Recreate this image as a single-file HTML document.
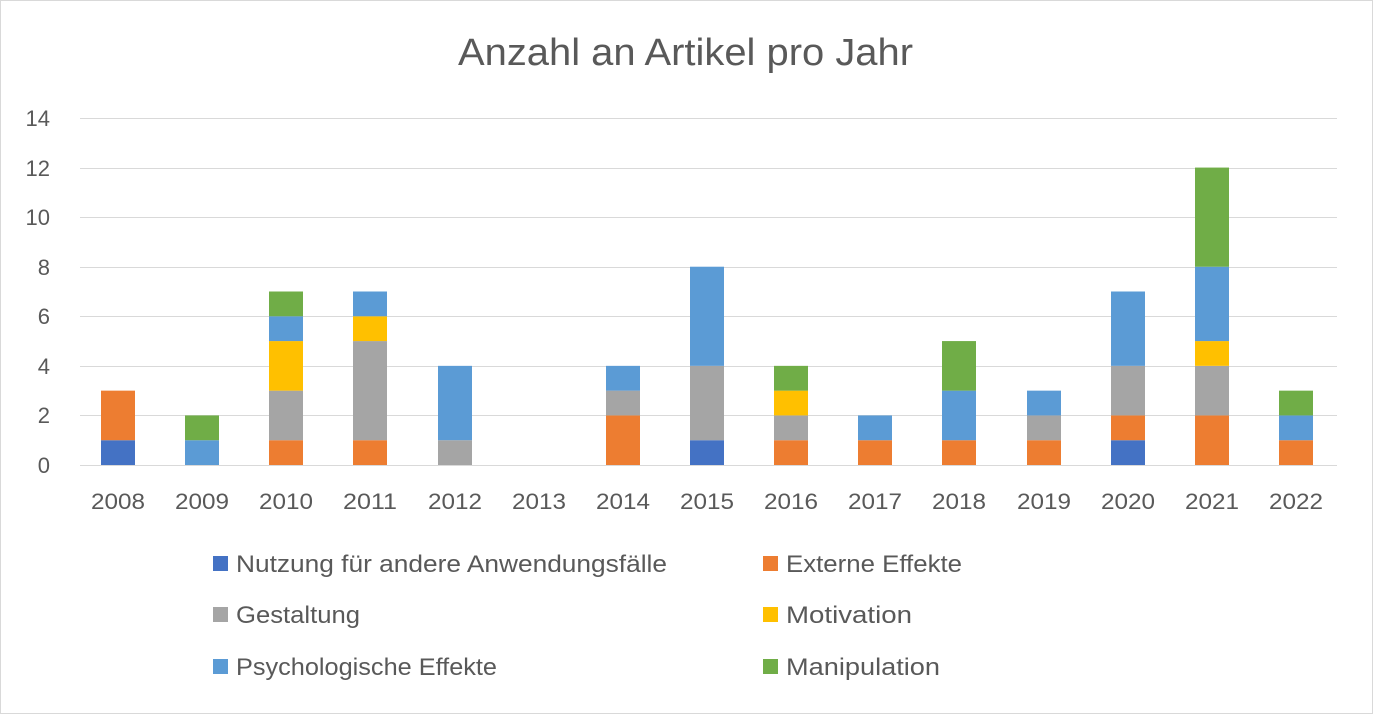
<!DOCTYPE html>
<html><head><meta charset="utf-8"><style>
html,body{margin:0;padding:0;background:#fff}
svg{display:block;font-family:"Liberation Sans",sans-serif}
</style></head><body>
<svg width="1373" height="714" viewBox="0 0 1373 714">
<rect x="0.5" y="0.5" width="1372" height="713" fill="#fff" stroke="#d9d9d9"/>
<text x="458" y="65" font-size="38" fill="#595959" textLength="455" lengthAdjust="spacingAndGlyphs">Anzahl an Artikel pro Jahr</text>
<g stroke="#d9d9d9" stroke-width="1">
<line x1="80" x2="1337" y1="118.5" y2="118.5"/>
<line x1="80" x2="1337" y1="168.5" y2="168.5"/>
<line x1="80" x2="1337" y1="217.5" y2="217.5"/>
<line x1="80" x2="1337" y1="267.5" y2="267.5"/>
<line x1="80" x2="1337" y1="316.5" y2="316.5"/>
<line x1="80" x2="1337" y1="366.5" y2="366.5"/>
<line x1="80" x2="1337" y1="415.5" y2="415.5"/>
<line x1="80" x2="1337" y1="465.5" y2="465.5"/>
</g>
<g font-size="22" fill="#595959" text-anchor="end">
<text x="50" y="126">14</text><text x="50" y="176">12</text><text x="50" y="225">10</text>
<text x="50" y="275">8</text><text x="50" y="324">6</text><text x="50" y="374">4</text>
<text x="50" y="423">2</text><text x="50" y="473">0</text>
</g>
<g transform="translate(0,465) scale(1,-24.786)">
<rect x="101" y="0" width="34" height="1" fill="#4472C4"/>
<rect x="101" y="1" width="34" height="2" fill="#ED7D31"/>
<rect x="185" y="0" width="34" height="1" fill="#5B9BD5"/>
<rect x="185" y="1" width="34" height="1" fill="#70AD47"/>
<rect x="269" y="0" width="34" height="1" fill="#ED7D31"/>
<rect x="269" y="1" width="34" height="2" fill="#A5A5A5"/>
<rect x="269" y="3" width="34" height="2" fill="#FFC000"/>
<rect x="269" y="5" width="34" height="1" fill="#5B9BD5"/>
<rect x="269" y="6" width="34" height="1" fill="#70AD47"/>
<rect x="353" y="0" width="34" height="1" fill="#ED7D31"/>
<rect x="353" y="1" width="34" height="4" fill="#A5A5A5"/>
<rect x="353" y="5" width="34" height="1" fill="#FFC000"/>
<rect x="353" y="6" width="34" height="1" fill="#5B9BD5"/>
<rect x="438" y="0" width="34" height="1" fill="#A5A5A5"/>
<rect x="438" y="1" width="34" height="3" fill="#5B9BD5"/>
<rect x="606" y="0" width="34" height="2" fill="#ED7D31"/>
<rect x="606" y="2" width="34" height="1" fill="#A5A5A5"/>
<rect x="606" y="3" width="34" height="1" fill="#5B9BD5"/>
<rect x="690" y="0" width="34" height="1" fill="#4472C4"/>
<rect x="690" y="1" width="34" height="3" fill="#A5A5A5"/>
<rect x="690" y="4" width="34" height="4" fill="#5B9BD5"/>
<rect x="774" y="0" width="34" height="1" fill="#ED7D31"/>
<rect x="774" y="1" width="34" height="1" fill="#A5A5A5"/>
<rect x="774" y="2" width="34" height="1" fill="#FFC000"/>
<rect x="774" y="3" width="34" height="1" fill="#70AD47"/>
<rect x="858" y="0" width="34" height="1" fill="#ED7D31"/>
<rect x="858" y="1" width="34" height="1" fill="#5B9BD5"/>
<rect x="942" y="0" width="34" height="1" fill="#ED7D31"/>
<rect x="942" y="1" width="34" height="2" fill="#5B9BD5"/>
<rect x="942" y="3" width="34" height="2" fill="#70AD47"/>
<rect x="1027" y="0" width="34" height="1" fill="#ED7D31"/>
<rect x="1027" y="1" width="34" height="1" fill="#A5A5A5"/>
<rect x="1027" y="2" width="34" height="1" fill="#5B9BD5"/>
<rect x="1111" y="0" width="34" height="1" fill="#4472C4"/>
<rect x="1111" y="1" width="34" height="1" fill="#ED7D31"/>
<rect x="1111" y="2" width="34" height="2" fill="#A5A5A5"/>
<rect x="1111" y="4" width="34" height="3" fill="#5B9BD5"/>
<rect x="1195" y="0" width="34" height="2" fill="#ED7D31"/>
<rect x="1195" y="2" width="34" height="2" fill="#A5A5A5"/>
<rect x="1195" y="4" width="34" height="1" fill="#FFC000"/>
<rect x="1195" y="5" width="34" height="3" fill="#5B9BD5"/>
<rect x="1195" y="8" width="34" height="4" fill="#70AD47"/>
<rect x="1279" y="0" width="34" height="1" fill="#ED7D31"/>
<rect x="1279" y="1" width="34" height="1" fill="#5B9BD5"/>
<rect x="1279" y="2" width="34" height="1" fill="#70AD47"/>
</g>
<g font-size="22" fill="#595959" text-anchor="middle">
<text x="118" y="509" textLength="54" lengthAdjust="spacingAndGlyphs">2008</text><text x="202" y="509" textLength="54" lengthAdjust="spacingAndGlyphs">2009</text><text x="286" y="509" textLength="54" lengthAdjust="spacingAndGlyphs">2010</text>
<text x="370" y="509" textLength="54" lengthAdjust="spacingAndGlyphs">2011</text><text x="455" y="509" textLength="54" lengthAdjust="spacingAndGlyphs">2012</text><text x="539" y="509" textLength="54" lengthAdjust="spacingAndGlyphs">2013</text>
<text x="623" y="509" textLength="54" lengthAdjust="spacingAndGlyphs">2014</text><text x="707" y="509" textLength="54" lengthAdjust="spacingAndGlyphs">2015</text><text x="791" y="509" textLength="54" lengthAdjust="spacingAndGlyphs">2016</text>
<text x="875" y="509" textLength="54" lengthAdjust="spacingAndGlyphs">2017</text><text x="959" y="509" textLength="54" lengthAdjust="spacingAndGlyphs">2018</text><text x="1044" y="509" textLength="54" lengthAdjust="spacingAndGlyphs">2019</text>
<text x="1128" y="509" textLength="54" lengthAdjust="spacingAndGlyphs">2020</text><text x="1212" y="509" textLength="54" lengthAdjust="spacingAndGlyphs">2021</text><text x="1296" y="509" textLength="54" lengthAdjust="spacingAndGlyphs">2022</text>
</g>
<g font-size="24" fill="#595959">
<rect x="213" y="556" width="15" height="15" fill="#4472C4"/><text x="236" y="572" textLength="431" lengthAdjust="spacingAndGlyphs">Nutzung für andere Anwendungsfälle</text>
<rect x="763" y="556" width="15" height="15" fill="#ED7D31"/><text x="786" y="572" textLength="176" lengthAdjust="spacingAndGlyphs">Externe Effekte</text>
<rect x="213" y="607" width="15" height="15" fill="#A5A5A5"/><text x="236" y="623" textLength="124" lengthAdjust="spacingAndGlyphs">Gestaltung</text>
<rect x="763" y="607" width="15" height="15" fill="#FFC000"/><text x="786" y="623" textLength="126" lengthAdjust="spacingAndGlyphs">Motivation</text>
<rect x="213" y="659" width="15" height="15" fill="#5B9BD5"/><text x="236" y="675" textLength="261" lengthAdjust="spacingAndGlyphs">Psychologische Effekte</text>
<rect x="763" y="659" width="15" height="15" fill="#70AD47"/><text x="786" y="675" textLength="154" lengthAdjust="spacingAndGlyphs">Manipulation</text>
</g>
</svg>
</body></html>
